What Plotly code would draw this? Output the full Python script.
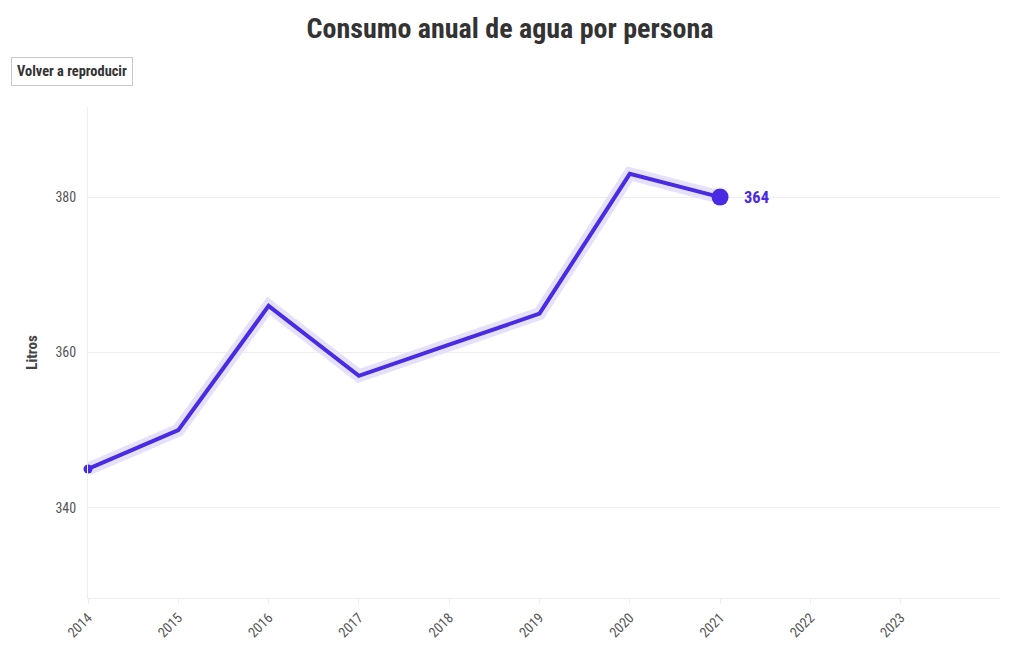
import plotly.graph_objects as go

years = [2014, 2015, 2016, 2017, 2018, 2019, 2020, 2021]
litros = [345, 350, 366, 357, 361, 365, 383, 380]
end_label = "364"
tick_years = [2014, 2015, 2016, 2017, 2018, 2019, 2020, 2021, 2022, 2023]
y_ticks = [340, 360, 380]

FONT = "Roboto Condensed, Liberation Sans Narrow, DejaVu Sans Condensed, Roboto, sans-serif"
LINE = "#4a2ae3"
GLOW = "#e6e1fb"

fig = go.Figure()
fig.add_trace(go.Scatter(x=years, y=litros, mode="lines",
                         line=dict(color=GLOW, width=13), hoverinfo="skip", showlegend=False,
                         cliponaxis=False))
fig.add_trace(go.Scatter(x=years, y=litros, mode="lines",
                         line=dict(color=LINE, width=4), showlegend=False, cliponaxis=False))
fig.add_trace(go.Scatter(x=[years[0]], y=[litros[0]], mode="markers",
                         marker=dict(color=LINE, size=9), showlegend=False, cliponaxis=False))
fig.add_trace(go.Scatter(x=[years[-1]], y=[litros[-1]], mode="markers",
                         marker=dict(color=LINE, size=17), showlegend=False, cliponaxis=False))

fig.add_annotation(x=years[-1], y=litros[-1], text=f"<b>{end_label}</b>", showarrow=False,
                   xanchor="left", yanchor="middle", xshift=22,
                   font=dict(family=FONT, size=16.5, color=LINE))

fig.add_annotation(xref="paper", yref="paper", x=-0.0844, y=1.0713,
                   text="<b>Volver a reproducir</b>", showarrow=False,
                   xanchor="left", yanchor="middle",
                   bordercolor="#c8c8c8", borderwidth=1, borderpad=5, bgcolor="#ffffff",
                   font=dict(family=FONT, size=14.4, color="#333333"))

fig.update_layout(
    width=1020, height=650,
    paper_bgcolor="white", plot_bgcolor="white",
    margin=dict(l=80, r=28, t=99, b=60),
    font=dict(family=FONT, color="#555555", size=14),
    title=dict(text="<b>Consumo anual de agua por persona</b>", x=502 / 1020, xanchor="center",
               xref="container", y=1 - 20 / 650, yanchor="middle",
               font=dict(family=FONT, size=28, color="#333333")),
    xaxis=dict(range=[2014, 2024.1], tickmode="array", tickvals=tick_years,
               ticktext=[str(t) for t in tick_years], tickangle=-45,
               showgrid=False, zeroline=False, showline=True, linecolor="#eeeeee",
               ticks="outside", ticklen=5, tickcolor="#eeeeee",
               tickfont=dict(family=FONT, size=14, color="#555555")),
    yaxis=dict(range=[328.4, 391.6], tickvals=y_ticks, showgrid=True, gridcolor="#eeeeee",
               zeroline=False, showline=True, linecolor="#eeeeee",
               ticks="", ticklabelstandoff=8,
               title=dict(text="<b>Litros</b>", standoff=14,
                          font=dict(family=FONT, size=15, color="#444444")),
               tickfont=dict(family=FONT, size=14, color="#555555")),
)

fig.write_html("out.html")
